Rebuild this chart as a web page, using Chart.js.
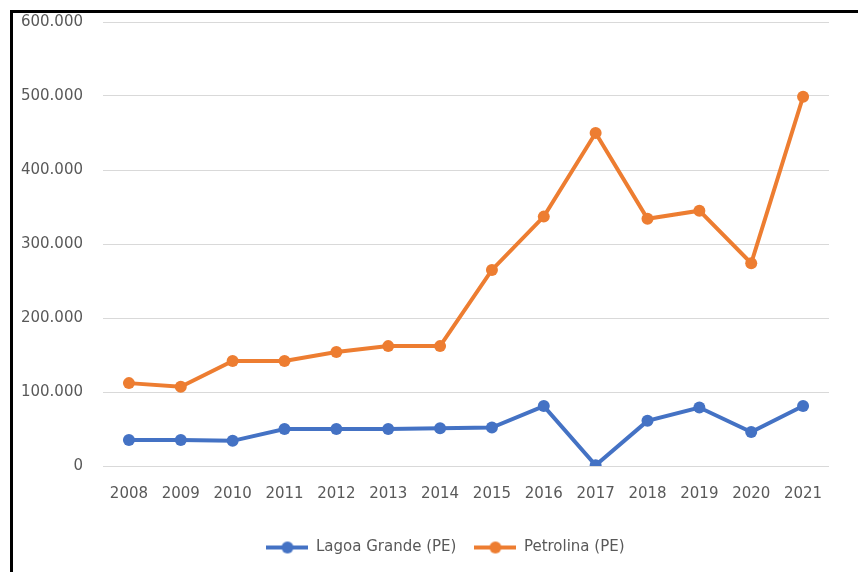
<!DOCTYPE html>
<html>
<head>
  <title>Lagoa Grande x Petrolina</title>
  <script src="https://cdn.jsdelivr.net/npm/chart.js"></script>
  <style>
    body { margin: 0; background: #fff; }
    #wrap { position: relative; width: 858px; height: 572px; overflow: hidden; }
    #chart { position: absolute; left: 0; top: -7px; }
    #frame { position: absolute; left: 10px; top: 10px; right: 0; bottom: 0;
             border-left: 3px solid #000; border-top: 3px solid #000; pointer-events: none; }
  </style>
</head>
<body>
  <div id="wrap">
    <canvas id="chart" width="858" height="579"></canvas>
    <div id="frame"></div>
  </div>
  <script>
    const years = ['2008', '2009', '2010', '2011', '2012', '2013', '2014',
                   '2015', '2016', '2017', '2018', '2019', '2020', '2021'];
    const lagoaGrande = [35000, 35000, 34000, 50000, 50000, 50000, 51000,
                         52000, 81000, 1000, 61000, 79000, 46000, 81000];
    const petrolina = [112000, 107000, 142000, 142000, 154000, 162000, 162000,
                       265000, 337000, 450000, 334000, 345000, 274000, 499000];
    const seriesNames = ['Lagoa Grande (PE)', 'Petrolina (PE)'];
    const colors = ['#4472C4', '#ED7D31'];

    // legend marker: short line with a dot in the middle
    function marker(color) {
      const c = document.createElement('canvas');
      c.width = 42; c.height = 14;
      const g = c.getContext('2d');
      g.strokeStyle = color; g.lineWidth = 4;
      g.beginPath(); g.moveTo(0, 7); g.lineTo(42, 7); g.stroke();
      g.fillStyle = color;
      g.beginPath(); g.arc(21, 7, 6, 0, Math.PI * 2); g.fill();
      return c;
    }
    const markers = colors.map(marker);

    const fmt = v => v.toString().replace(/\B(?=(\d{3})+(?!\d))/g, '.');
    const font = { family: 'DejaVu Sans', size: 15 };

    // nudge the legend right so it sits where the original one is
    const legendShift = {
      id: 'legendShift',
      afterLayout(chart) {
        chart.legend.left += 31;
        chart.legend.right += 31;
      }
    };

    new Chart(document.getElementById('chart'), {
      type: 'line',
      data: {
        labels: years,
        datasets: [lagoaGrande, petrolina].map((d, i) => ({
          label: seriesNames[i],
          data: d,
          borderColor: colors[i],
          backgroundColor: colors[i],
          borderWidth: 4,
          pointRadius: 6,
          pointHoverRadius: 6,
          pointBorderWidth: 0,
          tension: 0
        }))
      },
      plugins: [legendShift],
      options: {
        responsive: false,
        animation: false,
        layout: { padding: { left: 0, right: 29, top: 0, bottom: 7 } },
        plugins: {
          legend: {
            position: 'bottom',
            labels: {
              usePointStyle: true,
              pointStyleWidth: 42,
              padding: 18,
              color: '#595959',
              font: font,
              generateLabels(chart) {
                const items = Chart.defaults.plugins.legend.labels.generateLabels(chart);
                items.forEach((it, i) => { it.pointStyle = markers[i]; });
                return items;
              }
            }
          },
          tooltip: { enabled: false }
        },
        scales: {
          x: {
            offset: true,
            grid: { display: false, drawTicks: false },
            border: { display: false },
            ticks: { color: '#595959', padding: 19, maxRotation: 0, font: font },
            afterFit(s) { s.height = 56; }
          },
          y: {
            min: 0, max: 600000,
            grid: { color: '#d9d9d9', lineWidth: 1, drawTicks: false },
            border: { display: false },
            ticks: { stepSize: 100000, color: '#595959', padding: 20, font: font,
                     callback: v => fmt(v) },
            afterFit(s) { s.width = 103; }
          }
        }
      }
    });
  </script>
</body>
</html>
